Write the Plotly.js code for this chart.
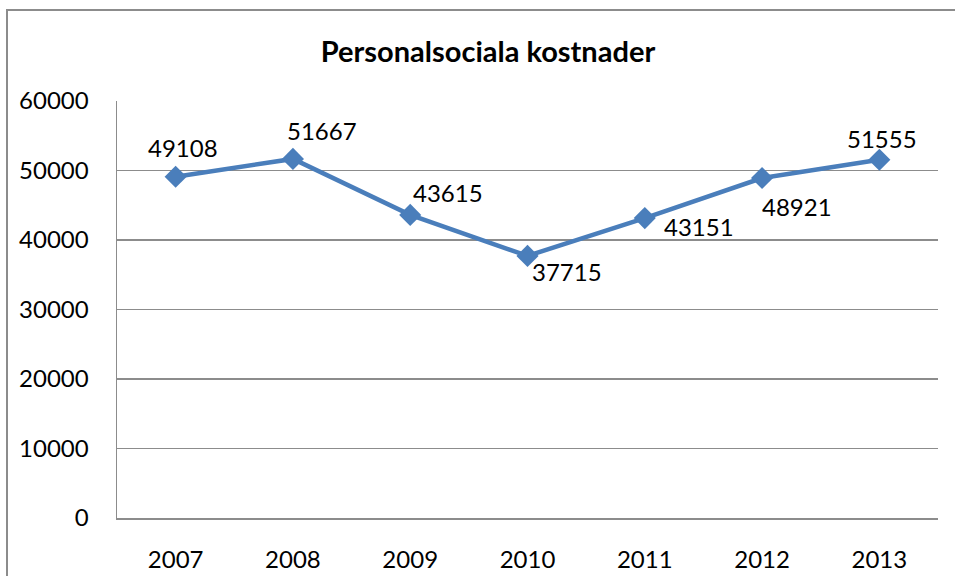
<!DOCTYPE html>
<html>
<head>
<meta charset="utf-8">
<script src="https://cdn.plot.ly/plotly-3.0.1.min.js"></script>
<style>
html,body{margin:0;padding:0;background:#fff;overflow:hidden;}
#frame{position:absolute;left:6px;top:9px;width:980px;height:600px;border:2px solid #8c8c8c;box-sizing:border-box;}
#chart{position:absolute;left:0;top:0;width:955px;height:576px;}
</style>
</head>
<body>
<div id="frame"></div>
<div id="chart"></div>
<script>
const years = ['2007','2008','2009','2010','2011','2012','2013'];
const values = [49108, 51667, 43615, 37715, 43151, 48921, 51555];
const yTicks = [0, 10000, 20000, 30000, 40000, 50000, 60000];
// label offsets (pixels) relative to each point
const labelDx = [7, 29, 38, 39, 54, 35, 3];
const labelDy = [29, 28, 22, -16, -8, -28, 21];

const FONT = 'Lato, Carlito, sans-serif';
const trace = {
  x: years, y: values, type: 'scatter', mode: 'lines+markers',
  line: {color: '#4a7ebb', width: 4.5},
  marker: {symbol: 'diamond', size: 17, color: '#4a7ebb'},
  cliponaxis: false, hoverinfo: 'skip'
};
// on a category axis the annotation x is the category index
const annotations = years.map((yr, i) => ({
  x: i, y: values[i], xref: 'x', yref: 'y', text: String(values[i]),
  showarrow: false, xshift: labelDx[i], yshift: labelDy[i],
  xanchor: 'center', yanchor: 'middle',
  font: {family: FONT, size: 24, color: '#000'}
}));
const layout = {
  width: 955, height: 576,
  margin: {l: 117, r: 17, t: 101, b: 58},
  paper_bgcolor: 'rgba(0,0,0,0)', plot_bgcolor: 'rgba(0,0,0,0)',
  showlegend: false,
  font: {family: FONT, size: 24, color: '#000'},
  title: {text: '<b>Personalsociala kostnader</b>', x: 0.511, xref: 'container', xanchor: 'center', y: 0.91, yref: 'container', yanchor: 'middle', font: {size: 29, family: FONT, color: '#000'}},
  xaxis: {type: 'category', range: [-0.5, 6.5], showgrid: false, showline: true, linecolor: '#8c8c8c', linewidth: 1.5, ticks: '', ticklabelstandoff: 20, tickfont: {size: 24}, zeroline: false, fixedrange: true},
  yaxis: {range: [0, 60000], tickvals: yTicks, ticktext: yTicks.map(String), showgrid: true, gridcolor: '#8c8c8c', gridwidth: 1.5, showline: true, linecolor: '#8c8c8c', linewidth: 1.5, zeroline: false, ticks: '', ticklabelstandoff: 22, tickfont: {size: 24}, fixedrange: true},
  annotations: annotations
};
Plotly.newPlot('chart', [trace], layout, {displayModeBar: false, staticPlot: true});
</script>
</body>
</html>
